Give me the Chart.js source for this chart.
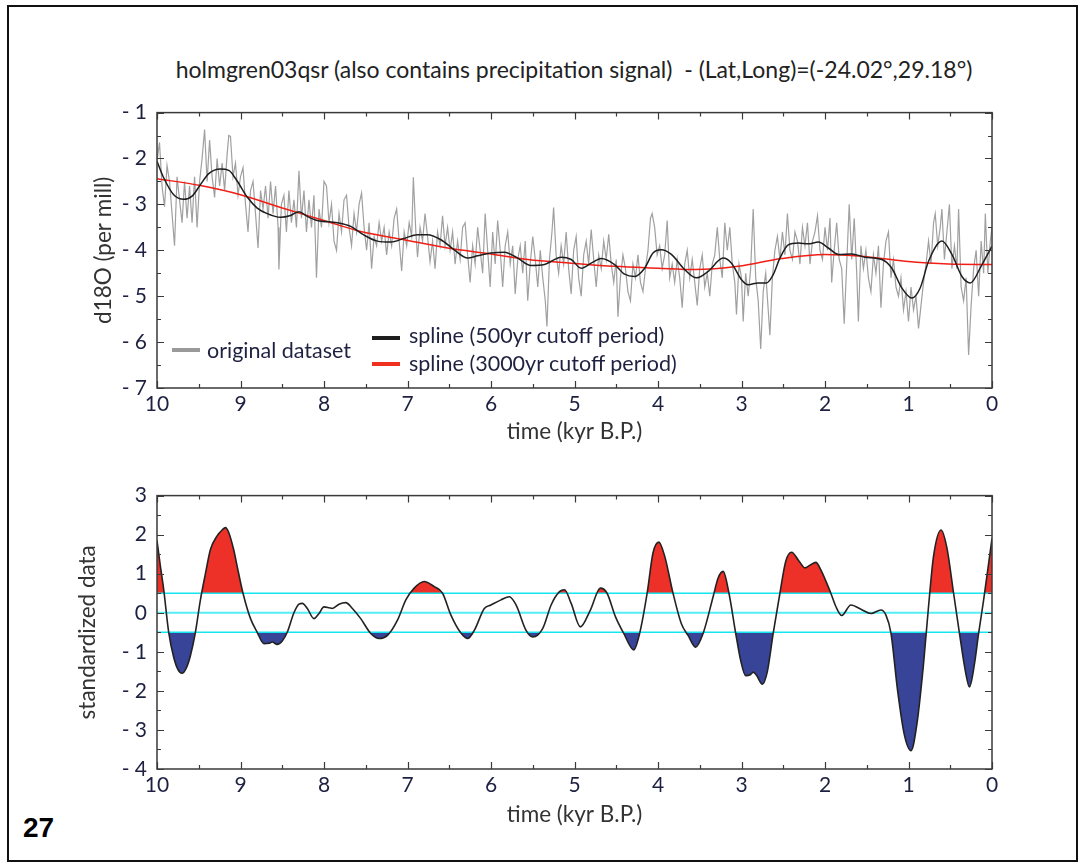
<!DOCTYPE html>
<html>
<head>
<meta charset="utf-8">
<script src="https://cdn.jsdelivr.net/npm/chart.js@4.4.1/dist/chart.umd.min.js"></script>
<style>
  html, body { margin: 0; padding: 0; background: #fff; }
  #page { position: relative; width: 1078px; height: 863px; overflow: hidden; font-family: Lato, "Open Sans", sans-serif; }
  #frame { position: absolute; left: 7px; top: 5px; width: 1067px; height: 853px; border: 2px solid #111; }
  .wrap { position: absolute; }
  #title { position: absolute; left: 0; width: 1148px; top: 55px; text-align: center; font-size: 23px; color: #222; white-space: pre; }
  .leg { position: absolute; font-size: 21.5px; color: #1f2140; white-space: nowrap; line-height: 1; }
  .sw { position: absolute; height: 4px; }
  #pagenum { position: absolute; left: 23px; top: 812px; font-family: "Liberation Sans", Arial, sans-serif; font-weight: bold; font-size: 28px; color: #000; }
</style>
</head>
<body>
<div id="page">
  <div id="frame"></div>
  <div id="title">holmgren03qsr (also contains precipitation signal)  - (Lat,Long)=(-24.02°,29.18°)</div>
  <div class="wrap" style="left:80px; top:90px; width:940px; height:365px;"><canvas id="topChart"></canvas></div>
  <div class="wrap" style="left:60px; top:473px; width:960px; height:365px;"><canvas id="bottomChart"></canvas></div>
  <div class="sw" style="left:172px; top:348px; width:28px; background:#9a9a9a;"></div>
  <div class="leg" style="left:207px; top:340px;">original dataset</div>
  <div class="sw" style="left:372px; top:336px; width:28px; background:#1e1e1e;"></div>
  <div class="leg" style="left:409px; top:325px;">spline (500yr cutoff period)</div>
  <div class="sw" style="left:372px; top:362px; width:28px; background:#f0301e;"></div>
  <div class="leg" style="left:409px; top:353px;">spline (3000yr cutoff period)</div>
  <div id="pagenum">27</div>
</div>
<script>
// age (kyr B.P.) / d18O pairs
const originalData = [
  [10.00,-2.05],[9.97,-1.65],[9.94,-2.6],[9.91,-3.05],[9.88,-2.15],[9.85,-2.5],[9.82,-3.2],[9.79,-3.9],[9.76,-2.4],[9.73,-2.9],
  [9.70,-3.4],[9.67,-2.5],[9.64,-3.3],[9.61,-2.6],[9.58,-3.4],[9.55,-2.4],[9.52,-3.5],[9.49,-2.5],[9.46,-2.0],[9.43,-1.37],
  [9.40,-2.5],[9.37,-1.6],[9.34,-2.4],[9.31,-2.85],[9.28,-2.0],[9.25,-2.6],[9.22,-2.1],[9.19,-2.7],[9.16,-1.9],[9.14,-1.5],
  [9.12,-1.52],[9.09,-2.4],[9.06,-2.1],[9.03,-2.8],[9.00,-2.4],[8.97,-2.2],[8.94,-3.0],[8.91,-3.6],[8.88,-2.7],[8.85,-2.5],
  [8.82,-3.2],[8.79,-3.95],[8.76,-2.7],[8.73,-3.1],[8.70,-2.6],[8.67,-3.3],[8.64,-2.5],[8.61,-3.2],[8.58,-2.6],[8.55,-3.5],
  [8.54,-4.42],[8.51,-3.0],[8.48,-2.8],[8.45,-3.6],[8.42,-2.7],[8.39,-3.4],[8.36,-2.9],[8.33,-3.5],[8.30,-2.27],[8.27,-3.3],
  [8.24,-2.7],[8.21,-3.6],[8.18,-2.9],[8.15,-3.5],[8.12,-2.8],[8.09,-4.6],[8.06,-3.1],[8.03,-3.5],[8.00,-2.5],
  [7.97,-2.6],[7.94,-3.4],[7.91,-3.0],[7.88,-3.8],[7.85,-4.0],[7.82,-3.2],[7.79,-3.6],[7.76,-2.9],[7.73,-2.8],[7.70,-3.5],
  [7.67,-3.9],[7.64,-3.2],[7.61,-3.6],[7.58,-3.0],[7.55,-2.75],[7.52,-3.5],[7.49,-4.0],[7.46,-3.4],[7.43,-4.4],[7.40,-3.7],
  [7.37,-3.9],[7.34,-3.4],[7.31,-3.8],[7.28,-3.5],[7.25,-4.1],[7.22,-3.6],[7.19,-3.9],[7.16,-3.3],[7.13,-3.1],[7.10,-3.8],
  [7.07,-4.45],[7.04,-3.6],[7.01,-3.9],[6.98,-3.4],[6.95,-3.7],[6.93,-2.41],[6.90,-3.6],[6.88,-4.15],[6.85,-3.5],[6.82,-3.8],
  [6.79,-3.2],[6.76,-3.7],[6.73,-4.25],[6.70,-3.8],[6.67,-4.4],[6.64,-3.6],[6.61,-3.9],[6.58,-3.25],[6.55,-3.9],[6.52,-3.5],
  [6.49,-4.0],[6.46,-3.6],[6.43,-4.3],[6.40,-3.8],[6.37,-4.2],[6.34,-3.5],[6.31,-3.4],[6.28,-4.1],[6.25,-4.7],[6.22,-3.9],
  [6.19,-4.3],[6.16,-3.5],[6.13,-4.0],[6.10,-4.5],[6.07,-3.2],[6.04,-4.0],[6.01,-4.8],
  [5.98,-3.6],[5.95,-4.3],[5.92,-3.35],[5.89,-4.0],[5.86,-4.8],[5.83,-3.9],[5.80,-3.6],[5.77,-4.3],[5.74,-3.9],[5.71,-4.95],
  [5.68,-4.2],[5.65,-3.9],[5.62,-4.5],[5.59,-3.8],[5.56,-5.1],[5.53,-4.3],[5.50,-3.7],[5.47,-4.2],[5.44,-4.8],[5.41,-4.0],
  [5.38,-4.6],[5.35,-5.1],[5.33,-5.66],[5.30,-4.2],[5.27,-3.6],[5.25,-3.07],[5.22,-4.1],[5.19,-4.5],[5.16,-3.9],[5.13,-4.3],
  [5.10,-3.6],[5.07,-4.4],[5.04,-4.95],[5.01,-4.0],[4.98,-3.7],[4.95,-4.6],[4.92,-5.0],[4.89,-4.1],[4.86,-3.8],[4.83,-4.3],
  [4.80,-3.55],[4.77,-4.2],[4.74,-4.8],[4.71,-4.1],[4.68,-4.4],[4.65,-3.8],[4.62,-4.2],[4.59,-3.65],[4.56,-4.3],[4.53,-4.7],
  [4.50,-4.2],[4.48,-5.45],[4.45,-4.6],[4.42,-4.1],[4.39,-4.4],[4.36,-4.9],[4.33,-5.1],[4.30,-4.3],[4.27,-4.6],[4.24,-4.1],
  [4.21,-4.7],[4.18,-4.9],[4.15,-4.4],[4.12,-4.0],[4.09,-3.3],[4.07,-3.2],[4.04,-3.5],[4.01,-4.1],
  [3.98,-3.9],[3.95,-4.4],[3.92,-4.1],[3.89,-3.35],[3.86,-4.6],[3.83,-4.3],[3.80,-4.7],[3.77,-4.2],[3.74,-4.6],[3.71,-5.25],
  [3.68,-4.3],[3.65,-4.0],[3.62,-4.6],[3.59,-4.2],[3.56,-4.7],[3.53,-5.2],[3.50,-4.4],[3.47,-4.1],[3.44,-4.8],[3.41,-4.5],
  [3.38,-5.0],[3.35,-4.3],[3.32,-4.1],[3.29,-3.5],[3.26,-4.2],[3.23,-4.6],[3.20,-3.4],[3.17,-4.0],[3.14,-3.5],[3.11,-4.3],
  [3.08,-4.7],[3.06,-5.4],[3.03,-4.3],[3.00,-4.6],[2.98,-5.55],[2.95,-4.5],[2.92,-5.0],[2.89,-4.4],[2.86,-3.1],[2.83,-4.6],
  [2.80,-5.1],[2.77,-6.15],[2.74,-4.9],[2.71,-4.5],[2.68,-5.3],[2.66,-5.85],[2.63,-4.6],[2.60,-4.0],[2.57,-3.7],[2.54,-4.2],
  [2.51,-3.6],[2.48,-4.1],[2.45,-3.2],[2.42,-4.0],[2.39,-4.2],[2.36,-3.6],[2.33,-3.8],[2.30,-4.3],[2.27,-3.5],[2.24,-3.9],
  [2.21,-3.4],[2.18,-4.3],[2.15,-3.8],[2.12,-3.6],[2.09,-3.25],[2.06,-4.0],[2.03,-4.2],[2.00,-3.5],
  [1.97,-4.0],[1.94,-3.3],[1.92,-4.7],[1.89,-4.0],[1.86,-3.4],[1.83,-4.2],[1.80,-4.4],[1.77,-5.6],[1.74,-4.3],[1.71,-3.0],
  [1.68,-4.2],[1.65,-3.3],[1.62,-4.5],[1.60,-5.55],[1.57,-3.9],[1.54,-4.4],[1.51,-4.0],[1.48,-4.6],[1.45,-4.9],[1.42,-4.1],
  [1.39,-4.5],[1.36,-3.9],[1.33,-5.25],[1.30,-4.3],[1.27,-3.8],[1.24,-3.6],[1.21,-4.6],[1.18,-4.2],[1.15,-4.8],[1.12,-5.0],
  [1.09,-4.6],[1.06,-5.3],[1.03,-4.9],[1.00,-5.55],[0.97,-4.8],[0.94,-5.3],[0.91,-5.0],[0.88,-5.7],[0.85,-5.2],[0.82,-4.7],
  [0.79,-4.3],[0.76,-3.8],[0.73,-4.3],[0.70,-3.4],[0.68,-3.2],[0.65,-3.9],[0.62,-3.5],[0.60,-3.1],[0.57,-4.2],[0.54,-3.6],
  [0.51,-3.0],[0.48,-4.4],[0.45,-3.9],[0.42,-4.4],[0.40,-3.1],[0.37,-4.8],[0.34,-5.1],[0.31,-4.6],[0.28,-6.28],[0.25,-5.2],
  [0.22,-4.4],[0.19,-4.0],[0.16,-5.0],[0.13,-3.8],[0.10,-4.5],[0.08,-3.2],[0.05,-4.5],[0.02,-3.8],[0.00,-3.5]
];

const spline500 = [
  [10.0,-2.06],[9.92,-2.42],[9.8,-2.79],[9.68,-2.89],[9.58,-2.82],[9.48,-2.57],[9.38,-2.33],[9.24,-2.23],[9.14,-2.26],[9.04,-2.49],
  [8.92,-2.84],[8.8,-3.08],[8.68,-3.2],[8.52,-3.28],[8.4,-3.24],[8.3,-3.16],[8.2,-3.26],[8.08,-3.35],[7.84,-3.4],[7.68,-3.48],
  [7.52,-3.67],[7.36,-3.8],[7.2,-3.82],[7.04,-3.74],[6.88,-3.66],[6.76,-3.66],[6.6,-3.77],[6.44,-3.99],[6.28,-4.17],[6.16,-4.12],
  [6.0,-4.06],[5.84,-4.04],[5.68,-4.17],[5.52,-4.33],[5.36,-4.31],[5.16,-4.15],[5.04,-4.2],[4.92,-4.39],[4.8,-4.28],[4.68,-4.18],
  [4.52,-4.31],[4.4,-4.52],[4.28,-4.57],[4.16,-4.39],[4.06,-4.06],[3.96,-3.99],[3.84,-4.09],[3.68,-4.42],[3.54,-4.6],[3.4,-4.46],
  [3.22,-4.17],[3.12,-4.28],[3.0,-4.64],[2.92,-4.75],[2.8,-4.71],[2.7,-4.71],[2.62,-4.53],[2.54,-4.17],[2.44,-3.88],[2.32,-3.84],
  [2.2,-3.86],[2.08,-3.82],[1.96,-3.95],[1.84,-4.09],[1.68,-4.08],[1.52,-4.15],[1.32,-4.2],[1.2,-4.39],[1.08,-4.82],[0.96,-5.04],
  [0.86,-4.82],[0.76,-4.24],[0.6,-3.8],[0.48,-4.09],[0.36,-4.57],[0.26,-4.71],[0.12,-4.31],[0.0,-3.91]
];

const spline3000 = [
  [10.0,-2.44],[9.48,-2.59],[9.0,-2.79],[8.48,-3.09],[8.0,-3.35],[7.56,-3.59],[7.04,-3.77],[6.52,-3.95],[6.0,-4.08],[5.56,-4.2],
  [5.04,-4.28],[4.52,-4.35],[4.0,-4.39],[3.56,-4.42],[3.04,-4.35],[2.52,-4.18],[2.0,-4.09],[1.56,-4.13],[1.04,-4.24],[0.52,-4.3],[0.0,-4.31]
];

// standardized (500yr spline minus 3000yr spline)
const standardized = [
  [10.0,1.85],[9.96,1.2],[9.92,0.6],[9.86,-0.5],[9.8,-1.14],[9.75,-1.45],[9.7,-1.55],[9.65,-1.42],[9.6,-1.1],[9.54,-0.5],
  [9.48,0.33],[9.42,1.0],[9.36,1.62],[9.28,1.97],[9.22,2.12],[9.18,2.18],[9.14,2.05],[9.08,1.6],[9.04,1.19],[8.97,0.5],
  [8.88,-0.15],[8.8,-0.5],[8.72,-0.79],[8.66,-0.78],[8.62,-0.75],[8.56,-0.81],[8.5,-0.72],[8.44,-0.5],[8.36,0.0],[8.3,0.22],
  [8.26,0.24],[8.2,0.11],[8.12,-0.15],[8.06,-0.02],[8.0,0.15],[7.94,0.13],[7.9,0.11],[7.82,0.22],[7.74,0.26],[7.66,0.11],
  [7.56,-0.15],[7.44,-0.53],[7.34,-0.66],[7.24,-0.58],[7.12,-0.19],[7.02,0.33],[6.92,0.63],[6.8,0.8],[6.68,0.67],[6.58,0.5],
  [6.48,-0.06],[6.36,-0.52],[6.28,-0.66],[6.2,-0.45],[6.08,0.11],[6.0,0.2],[5.88,0.33],[5.78,0.41],[5.7,0.2],[5.58,-0.45],
  [5.5,-0.62],[5.38,-0.4],[5.28,0.2],[5.18,0.54],[5.12,0.59],[5.04,0.24],[4.93,-0.36],[4.81,0.07],[4.69,0.63],[4.61,0.5],
  [4.51,-0.1],[4.41,-0.53],[4.29,-0.95],[4.22,-0.53],[4.13,0.5],[4.06,1.53],[3.99,1.81],[3.92,1.45],[3.82,0.5],[3.72,-0.28],
  [3.64,-0.58],[3.55,-0.88],[3.46,-0.53],[3.34,0.41],[3.28,0.89],[3.22,1.06],[3.15,0.5],[3.07,-0.52],[3.01,-1.22],[2.95,-1.61],
  [2.89,-1.58],[2.86,-1.52],[2.82,-1.6],[2.75,-1.83],[2.69,-1.5],[2.62,-0.52],[2.54,0.5],[2.47,1.32],[2.4,1.55],[2.31,1.32],
  [2.24,1.15],[2.18,1.22],[2.11,1.29],[2.05,1.1],[1.93,0.5],[1.87,0.16],[1.8,-0.07],[1.69,0.2],[1.57,0.09],[1.45,-0.02],
  [1.33,0.07],[1.27,-0.06],[1.21,-0.52],[1.13,-2.0],[1.05,-3.12],[0.97,-3.53],[0.9,-2.86],[0.82,-1.31],[0.76,0.16],[0.7,1.45],
  [0.61,2.12],[0.54,1.66],[0.46,0.5],[0.39,-0.52],[0.32,-1.48],[0.27,-1.9],[0.21,-1.31],[0.16,-0.52],[0.1,0.33],[0.0,1.9]
];

const thresholds = [0.5, 0, -0.5];
const ageTicks = [10, 9, 8, 7, 6, 5, 4, 3, 2, 1, 0];

const pts = arr => arr.map(p => ({ x: p[0], y: p[1] }));
const fmtY = v => v < 0 ? '- ' + Math.abs(v) : String(v);
const tickColor = '#1d2040';
const font = 'Lato, "Open Sans", sans-serif';

// box frame with inward major/minor ticks on all four sides
const boxTicks = {
  id: 'boxTicks',
  afterDatasetsDraw(chart) {
    const { ctx, chartArea: a, scales: { x, y } } = chart;
    ctx.save();
    ctx.strokeStyle = '#3a3a3a';
    ctx.lineWidth = 1.5;
    ctx.strokeRect(a.left, a.top, a.right - a.left, a.bottom - a.top);
    ctx.beginPath();
    for (let v = x.min; v <= x.max + 1e-6; v += 0.5) {
      const px = Math.round(x.getPixelForValue(v)) + 0.5;
      const len = Math.abs(v - Math.round(v)) < 1e-6 ? 7 : 4;
      ctx.moveTo(px, a.bottom); ctx.lineTo(px, a.bottom - len);
      ctx.moveTo(px, a.top); ctx.lineTo(px, a.top + len);
    }
    for (let v = y.min; v <= y.max + 1e-6; v += 0.5) {
      const py = Math.round(y.getPixelForValue(v)) + 0.5;
      const len = Math.abs(v - Math.round(v)) < 1e-6 ? 7 : 4;
      ctx.moveTo(a.left, py); ctx.lineTo(a.left + len, py);
      ctx.moveTo(a.right, py); ctx.lineTo(a.right - len, py);
    }
    ctx.lineWidth = 1.2;
    ctx.stroke();
    ctx.restore();
  }
};

function axes(yMin, yMax, yTitle, yWidth, yTitlePad, xHeight) {
  return {
    x: {
      type: 'linear', min: 0, max: 10, reverse: true,
      afterBuildTicks: s => { s.ticks = ageTicks.map(v => ({ value: v })); },
      afterFit: s => { s.height = xHeight; },
      grid: { display: false, drawTicks: false },
      border: { display: false },
      ticks: { color: tickColor, font: { family: font, size: 21 }, padding: 4, maxRotation: 0 },
      title: { display: true, text: 'time (kyr B.P.)', color: '#333', font: { family: font, size: 22.5 }, padding: { top: 0, bottom: 10 } }
    },
    y: {
      type: 'linear', min: yMin, max: yMax,
      ticks: { stepSize: 1, color: tickColor, font: { family: font, size: 21 }, padding: 10, callback: fmtY },
      afterFit: s => { s.width = yWidth; },
      grid: { display: false, drawTicks: false },
      border: { display: false },
      title: { display: true, text: yTitle, color: '#333', font: { family: font, size: 22.5 }, padding: { top: yTitlePad, bottom: 0 } }
    }
  };
}

const baseOpts = {
  responsive: true,
  maintainAspectRatio: false,
  animation: false,
  events: [],
  elements: { point: { radius: 0 } },
  plugins: { legend: { display: false }, tooltip: { enabled: false } }
};

new Chart(document.getElementById('topChart'), {
  type: 'line',
  data: {
    datasets: [
      { label: 'original dataset', data: pts(originalData), borderColor: '#a0a0a0', borderWidth: 1.2, tension: 0, order: 3 },
      { label: 'spline (3000yr cutoff period)', data: pts(spline3000), borderColor: '#f01e14', borderWidth: 1.5, cubicInterpolationMode: 'monotone', order: 2 },
      { label: 'spline (500yr cutoff period)', data: pts(spline500), borderColor: '#1e1e1e', borderWidth: 1.5, cubicInterpolationMode: 'monotone', order: 1 }
    ]
  },
  options: Object.assign({}, baseOpts, {
    layout: { padding: { top: 13, right: 28, left: 0, bottom: 0 } },
    scales: axes(-7, -1, 'd18O (per mill)', 77, 10, 67)
  }),
  plugins: [boxTicks]
});

const bottomSets = [
  { label: 'above', data: pts(standardized), borderWidth: 0, cubicInterpolationMode: 'monotone',
    fill: { target: { value: 0.5 }, above: '#ee3128', below: 'rgba(0,0,0,0)' }, order: 5 },
  { label: 'below', data: pts(standardized), borderWidth: 0, cubicInterpolationMode: 'monotone',
    fill: { target: { value: -0.5 }, above: 'rgba(0,0,0,0)', below: '#374497' }, order: 4 }
];
thresholds.forEach(t => {
  bottomSets.push({ label: 'level ' + t, data: [{ x: 10, y: t }, { x: 0, y: t }],
    borderColor: t === 0 ? '#55eef5' : '#14e6f0', borderWidth: t === 0 ? 2.2 : 1.6, order: 2 });
});
bottomSets.push({ label: 'standardized data', data: pts(standardized), borderColor: '#222', borderWidth: 1.6,
  cubicInterpolationMode: 'monotone', order: 1 });

new Chart(document.getElementById('bottomChart'), {
  type: 'line',
  data: { datasets: bottomSets },
  options: Object.assign({}, baseOpts, {
    layout: { padding: { top: 13, right: 28, left: 0, bottom: 0 } },
    scales: axes(-4, 3, 'standardized data', 97, 14, 69)
  }),
  plugins: [boxTicks]
});
</script>
</body>
</html>
